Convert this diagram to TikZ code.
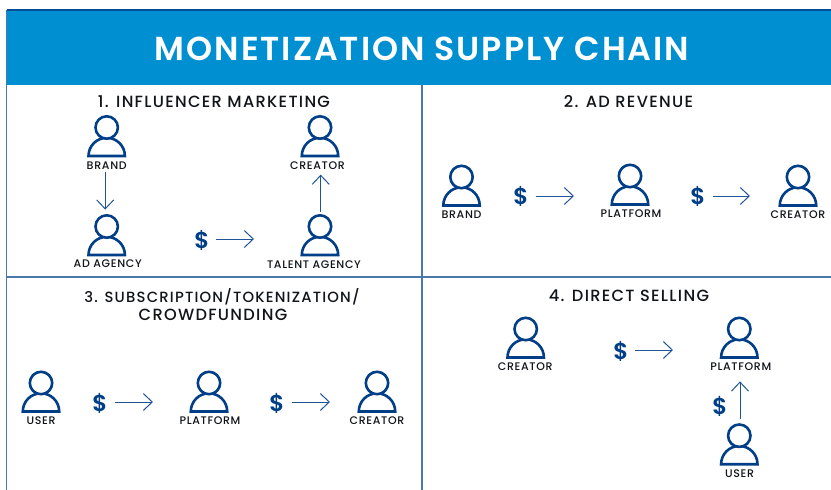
\documentclass[tikz,border=0pt]{standalone}
\usepackage{fontspec}
\setmainfont{Poppins}
\newfontfamily\titlefont[LetterSpace=6]{Poppins SemiBold}
\newfontfamily\headfont[LetterSpace=8]{Poppins Medium}
\newfontfamily\lblfont[LetterSpace=6]{Poppins Medium}
\newfontfamily\moneyfont{Poppins SemiBold}
\definecolor{hdr}{HTML}{0090D2}
\definecolor{rule}{HTML}{4A78A8}
\definecolor{navy}{HTML}{003F87}
\definecolor{arr}{HTML}{1F5596}
\definecolor{ink}{HTML}{111418}
\usetikzlibrary{arrows.meta}
\tikzset{
  x=1pt,y=-1pt,
  panel/.style={draw=rule,line width=1.6pt},
  headtxt/.style={font=\fontsize{16.2}{18}\selectfont\headfont,text=ink,inner sep=0pt,align=center},
  headnarrow/.style={font=\fontsize{14.8}{18}\selectfont\headfont,text=ink,inner sep=0pt,align=center},
  lbl/.style={font=\fontsize{11}{12}\selectfont\lblfont,text=ink,inner sep=0pt},
  money/.style={font=\fontsize{23}{25}\selectfont\moneyfont,text=navy,inner sep=0pt},
  conn/.style={draw=arr,line width=1pt,-{Straight Barb[length=9pt,width=17pt,line width=1pt]}},
  headcirc/.style={circle,draw=navy,fill=white,line width=2.6pt,minimum size=22.4pt,inner sep=0pt}
}
% \person{name}{cx}{cy}{label dx}{label dy}{text}
\newcommand{\person}[6]{%
  \draw[navy,line width=2.6pt,line join=miter] (#2-18.2,#3+28.5) arc[start angle=180,end angle=360,radius=18.2] -- cycle;
  \node[headcirc] (#1) at (#2,#3) {};
  \node[lbl] (#1l) at (#2+#4,#3+#5) {#6};
}
\begin{document}
\begin{tikzpicture}
\useasboundingbox (0,0) rectangle (831,490);
\fill[white] (0,0) rectangle (831,490);
\fill[hdr] (6.5,10) rectangle (831,85);
\draw[navy!80!hdr,line width=1.4pt] (6.5,10) -- (831,10);
\draw[panel] (6.5,10) -- (6.5,490);
\draw[panel] (422,85) -- (422,490);
\draw[panel] (6.5,277) -- (831,277);
\node[font=\fontsize{33.2}{36}\selectfont\titlefont,text=white,inner sep=0pt] (title) at (422,48.5) {MONETIZATION SUPPLY CHAIN};
\node[headtxt] (t1) at (214,102) {1. INFLUENCER MARKETING};
\node[headtxt] (t2) at (628.5,102) {2. AD REVENUE};
\node[headnarrow] (t3) at (222,297) {3. SUBSCRIPTION/TOKENIZATION/};
\node[headtxt] (t3b) at (213,315) {CROWDFUNDING};
\node[headtxt] (t4) at (629,296) {4. DIRECT SELLING};
% panel 1
\person{brand}{106.7}{127.5}{0}{38}{BRAND}
\person{adag}{106.7}{226.5}{1}{37}{AD AGENCY}
\person{creatorA}{320}{127.5}{-2.5}{38}{CREATOR}
\person{talent}{320}{226.5}{-6}{37.8}{TALENT AGENCY}
\draw[conn] ([xshift=-1.5pt,yshift=-2pt]brandl.south) -- ([xshift=-1.5pt,yshift=4.4pt]adag.north);
\draw[conn] ([xshift=0.7pt,yshift=2pt]talent.north) -- ([xshift=3.2pt,yshift=-5pt]creatorAl.south);
\node[money] (d1) at (202,240) {\$};
\coordinate (e1) at (254,239);
\draw[conn] (216,239) -- (e1);
% panel 2
\person{brandB}{461.5}{177}{0}{37.3}{BRAND}
\person{platB}{630}{176}{1}{37.3}{PLATFORM}
\person{creatorB}{798}{177}{0}{37.3}{CREATOR}
\node[money] (d2) at (521,196) {\$};
\node[money] (d3) at (698,196) {\$};
\coordinate (e2) at (574,196);
\coordinate (e3) at (750,196);
\draw[conn] (535.5,196) -- (e2);
\draw[conn] (712.5,196) -- (e3);
% panel 3
\person{userC}{41}{383}{0}{37.3}{USER}
\person{platC}{209}{383}{1}{37.3}{PLATFORM}
\person{creatorC}{377}{383}{0}{37.3}{CREATOR}
\node[money] (d4) at (100,403) {\$};
\node[money] (d5) at (277,403) {\$};
\coordinate (e4) at (153,402);
\coordinate (e5) at (330,402);
\draw[conn] (115,402) -- (e4);
\draw[conn] (292,402) -- (e5);
% panel 4
\person{creatorD}{525.7}{329}{-0.5}{37.3}{CREATOR}
\person{platD}{739.3}{329}{1.5}{37.3}{PLATFORM}
\person{userD}{739.3}{435.7}{0.2}{37.5}{USER}
\node[money] (d6) at (621,351) {\$};
\node[money] (d7) at (720,406) {\$};
\coordinate (e6) at (673,350);
\draw[conn] (635,350) -- (e6);
\draw[conn] ([xshift=0.7pt,yshift=4.5pt]userD.north) -- ([xshift=-0.8pt,yshift=-11pt]platDl.south);
\end{tikzpicture}
\end{document}
